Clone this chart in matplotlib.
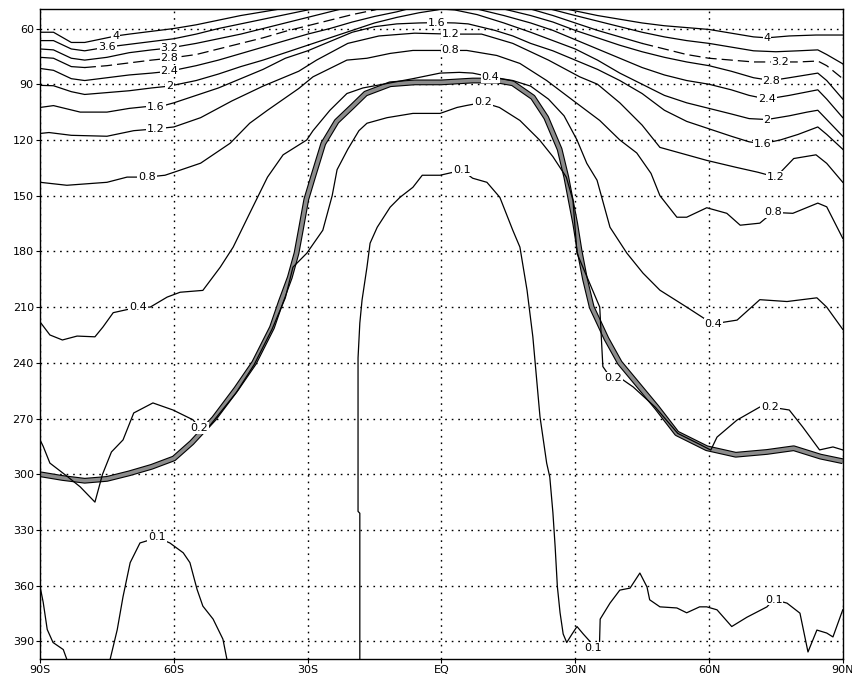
import matplotlib.pyplot as plt

# axes ticks
lat_ticks = [-90, -60, -30, 0, 30, 60, 90]
lat_labels = ['90S', '60S', '30S', 'EQ', '30N', '60N', '90N']
lev_ticks = [60, 90, 120, 150, 180, 210, 240, 270, 300, 330, 360, 390]

# contour 4
c40_lat = [-90, -87, -83, -80, -76, -73, -70, -65, -60, -55, -50, -45, -40, -35, -33]
c40_p = [62, 62, 67.5, 67.5, 65.5, 64, 63, 61.5, 60, 58, 55.5, 53, 51, 49, 48]
c40r_lat = [25, 30, 35, 40, 45, 50, 55, 60, 65, 70, 73, 78, 84, 90]
c40r_p = [48, 50.5, 53, 55, 57, 58.5, 59.5, 60.5, 62.5, 64.5, 65, 64, 63.5, 63.5]

# contour 3.6
c36_lat = [-90, -87, -83, -80, -75, -70, -65, -60, -55, -50, -45, -40, -35, -30, -27]
c36_p = [66.5, 66.5, 71, 72, 70, 68.5, 67, 65.5, 63, 60, 57.5, 55, 52.5, 50, 48]
c36r_lat = [22, 26, 30, 35, 40, 45, 50, 55, 60, 65, 70, 75, 80, 84.4, 86.4, 90]
c36r_p = [48, 50.5, 53, 56, 59, 62, 64.5, 66.5, 68, 70, 72, 72.5, 72, 71.5, 74, 79]

# contour 3.2
c32_lat = [-90, -87, -83, -80, -75, -70, -65, -61, -55, -50, -45, -40, -35, -30, -25, -20]
c32_p = [71, 71.5, 76, 77, 75.5, 73, 71.5, 70.5, 68, 65.5, 63, 60, 57, 54, 51, 48]
c32r_lat = [17, 20, 25, 30, 35, 40, 45]
c32r_p = [48, 49.5, 53, 57, 61, 64.5, 68]
c32e_lat = [45, 50, 55, 60, 65, 70, 76, 80, 84.4, 86.4, 90]
c32e_p = [68, 71, 74, 76, 77, 78, 78, 78, 77.5, 80, 87]

# contour 2.8
c28w_lat = [-90, -87, -83, -80]
c28w_p = [75.5, 76, 80.5, 81]
c28_lat = [-80, -75, -70, -65, -61, -55, -50, -45, -40, -35, -30, -25, -20, -15, -12]
c28_p = [81, 80, 78.5, 77, 76, 74, 71, 68, 65, 61.5, 58.5, 55.5, 52.5, 50, 48]
c28r_lat = [11, 14, 20, 25, 30, 35, 40, 45, 50, 55, 60, 65, 70, 74, 78, 84.4, 86.4, 90]
c28r_p = [48, 49.5, 53, 56.5, 61, 65, 69, 72.5, 75.5, 78, 80, 83, 86.5, 88, 86.5, 84, 88, 98]

# contour 2.4
c24_lat = [-90, -87, -83, -80, -75, -70, -65, -61, -55, -50, -45, -40, -35, -30, -25, -20, -15, -10, -6]
c24_p = [81.5, 82.5, 87, 88, 86.5, 85, 84, 83, 80, 77, 73.5, 70, 66.5, 63, 60, 56.5, 53.5, 51, 48.5]
c24r_lat = [5, 8, 14, 20, 25, 30, 35, 40, 45, 50, 55, 60, 65, 69, 73, 78, 84.4, 86.4, 90]
c24r_p = [48, 49.5, 53, 57, 61, 66, 71, 76, 81, 85, 88, 90, 93, 96, 98, 96, 93, 98, 108]

# contour 2
c20_lat = [-90, -87, -83, -80, -75, -70, -65, -61, -55, -50, -45, -40, -35, -30, -25, -20, -15,
           -10, -5, -1, 0, 3, 8, 14, 20, 25, 30, 35, 40, 45, 50, 55, 60, 65, 69, 73, 78, 82,
           84.4, 86.4, 90]
c20_p = [90.6, 90.8, 94, 95.5, 94.5, 93.5, 92, 91, 88, 84.5, 80.5, 77, 73, 69, 65, 61, 57,
         54, 51.5, 50, 49.5, 50, 52.5, 57, 62, 66.5, 71, 77, 84, 90, 96, 100, 103, 106, 108.5,
         109, 107, 105, 104, 109, 118]

# contour 1.6
c16_lat = [-90, -87, -81, -75, -70, -66, -63, -60, -55, -50, -45, -40, -35, -30, -25, -20, -15,
           -10, -5, -1, 3, 6, 12, 16, 20, 25, 30, 35, 40, 45, 50, 55, 60, 65, 69, 72, 76, 80,
           84.4, 86.4, 90]
c16_p = [102.5, 101.5, 105, 105, 103, 102, 102, 100, 96, 92, 87, 82, 76, 72, 67, 62, 59,
         57.5, 57, 56.8, 57, 57.5, 61, 64, 68, 72, 77, 82, 88, 95, 104, 110, 114, 118, 121,
         122, 120, 117, 113, 117, 125]

# contour 1.2
c12_lat = [-90, -88, -83, -75, -69, -64, -60, -54, -47, -40, -32, -28, -21, -14, -6, 2, 9, 16,
           24, 31, 35, 40, 45, 49, 53.5, 59.5, 66, 71, 75, 79, 84, 86.4, 90]
c12_p = [116.5, 116, 117.5, 118, 115, 114, 113, 108, 99, 91, 83, 77, 68, 64, 62.5, 63, 63, 68,
         77, 86, 90, 100, 112, 124, 127, 131, 134.7, 137.4, 140, 130, 128, 132.6, 142.8]

# contour 0.8
c08_lat = [-90, -84, -75, -70.5, -66, -62, -60, -54, -47.4, -43, -39, -32, -28.8, -21.2, -16.7,
           -11.5, -6.4, 2, 5.7, 12.4, 17.6, 23.6, 29.5, 35.5, 40, 43.8, 47, 49, 52.8, 55, 59.5,
           64, 67, 71.4, 74.3, 78.8, 84.4, 86.4, 90]
c08_p = [142.8, 144.4, 142.8, 140, 140, 139, 137.4, 132.5, 121.8, 111, 104, 92.3, 86, 77, 76,
         73.4, 71.8, 71.8, 71.8, 74.5, 78.8, 88, 98.7, 109.5, 120, 127, 138, 150, 161.6, 161.6,
         156.5, 159.5, 165.9, 164.8, 159, 159.5, 154, 156, 173]

# contour 0.4
c04_lat = [-90, -87.8, -85, -81.7, -77.7, -75.9, -73.6, -68, -65.3, -61.5, -58.6, -53.5, -49.6,
           -46.7, -43, -39, -35.5, -30.2, -28.8, -25, -21.2, -17.6, -12, -6.4, -0.3, 4, 7, 11,
           16, 20, 24, 27.5, 30.4, 32.6, 34.9, 37.8, 41.6, 45.2, 49, 55, 59.5, 61, 66.3, 71.4,
           77.5, 84.2, 86.4, 90]
c04_p = [218, 225, 227.7, 225.6, 226, 220.7, 213, 210, 210, 204.6, 202, 201, 188.5, 177.7,
         159.5, 140, 128, 120, 115, 104, 95, 92, 89.5, 87, 84, 83.6, 84, 86, 88, 91, 98, 107,
         120, 132.6, 141.7, 167, 181, 191.7, 200.9, 210, 217, 219, 217, 206, 207, 205, 210, 222]

# contour 0.2
c02_lat = [-90, -89.3, -87.8, -84, -81, -77.7, -76, -74, -71.4, -69, -64.7, -60.2, -55.7, -54.3,
           -52, -46, -42, -38, -35, -33.3, -30.2, -26.6, -24.5, -23.4, -21, -18.5, -16.7,
           -12.2, -6.4, -0.3, 3.5, 5.7, 9.3, 13, 17.6, 22, 25, 28, 29.5, 30.4, 35.5, 36.2,
           37.8, 40, 43, 48, 53, 58, 60.4, 61.8, 66.3, 71.4, 73.7, 78, 81, 84.8, 87.8, 90]
c02_p = [281.5, 285, 294, 301, 306.8, 315, 300, 288, 281.5, 267, 261.6, 265.4, 270.7, 275,
         274, 256, 241, 222, 205, 188.5, 181, 168.6, 150, 136, 125, 115, 111, 108, 105.7,
         105.7, 102.5, 101.4, 99.8, 102.5, 109.5, 120, 129, 140, 152.5, 181, 210, 242, 247.6,
         248, 253, 264, 278, 284, 287, 280, 270.8, 263.8, 263.8, 265.4, 274.5, 286.9, 285.3,
         286.9]

# contour 0.1, central dome
c01_lat = [-18.3, -18.3, -18.7, -18.7, -18.7, -18.3, -17.8, -16.7, -16, -14.4, -11.5, -9.3,
           -6.4, -4.3, -0.3, 4.6, 7, 10.2, 13.1, 16, 17.6, 19.2, 20.5, 22.1, 23.6, 24.3, 25,
           25.5, 26, 26.6, 27.3, 28.1, 29.3, 30.4, 31.8, 33.3, 34, 35, 35.4, 35.6, 37.8, 40,
           42.3, 44.5, 46.1, 46.7, 49, 52.8, 55, 57.9, 59.5, 61.8, 65.1, 68.5, 73, 74.5, 77.5,
           80.4, 82.2, 84.2, 86.4, 87.8, 90]
c01_p = [400, 321, 320, 286.9, 237.4, 218.6, 206.2, 188.5, 175.6, 167, 156.2, 150.9, 145.5,
         139, 139, 136.3, 140.6, 142.8, 150.9, 168.6, 177.7, 200.9, 226, 269, 294, 301.5,
         320.7, 339, 360.5, 374.5, 386, 390.6, 386, 382, 386, 390, 393, 396, 395.5, 378,
         369.4, 362.4, 361.3, 353.2, 360.7, 367.6, 371.4, 372, 374.6, 371.4, 371.4, 373, 382,
         377, 371.4, 367.5, 369.4, 374.8, 395.7, 383.9, 385.5, 387.6, 373]

# contour 0.1, left edge
c01w_lat = [-90, -90, -89.3, -88.4, -87.1, -84.8, -84, -83.7]
c01w_p = [352, 360.5, 369, 383.6, 390.6, 394.4, 399.7, 400]

# contour 0.1, southern bump
c01s_lat = [-74.6, -74.3, -72.7, -71.4, -69.8, -67.6, -65.3, -63.8, -60.9, -57.9, -56.4, -54.8,
            -53.5, -51.2, -49, -48.1, -48]
c01s_p = [400, 399.7, 383.7, 365.9, 347.6, 337, 335.3, 334, 337, 342.3, 347.6, 362, 371, 378,
          388.8, 399.7, 400]

# thick band
trop_lat = [-90, -85, -80, -75, -70, -65, -60, -56, -51, -46, -42, -38, -36, -34, -32.5, -31.5,
            -30.3, -28.8, -26.5, -23.5, -20, -17, -11.5, -6, 0, 7, 12.5, 16, 20.5, 23.5, 26.5,
            28, 28.8, 30, 31, 32.2, 33.7, 37, 40, 44.5, 48.3, 52.8, 59.5, 66, 73, 79, 85, 90]
trop_p = [300, 302, 303.5, 302.5, 299.5, 296, 291.5, 283, 270, 254, 240, 221, 207, 194, 181,
          168, 152, 140, 122, 110, 102, 95, 90, 89, 89, 88, 88, 89.5, 97, 108, 125, 140, 150,
          165, 180, 195, 210, 227, 240, 253, 264, 278, 286, 289.5, 288, 286, 290.5, 293]

# inline labels
lbl_text = ['4', '3.6', '3.2', '2.8', '2.4', '2', '1.6', '1.2', '0.8', '0.4', '0.2', '0.1',
            '1.6', '1.2', '0.8', '0.4', '0.2', '0.1',
            '4', '3.2', '2.8', '2.4', '2', '1.6', '1.2', '0.8', '0.4', '0.2', '0.2', '0.1', '0.1']
lbl_lat = [-73, -75, -61, -61, -61, -61, -64, -64, -66, -68, -54.3, -63.8,
           -1, 2, 2, 11, 9.3, 4.6,
           73, 76, 74, 73, 73, 72, 75, 74.3, 61, 38.5, 73.7, 74.5, 34]
lbl_p = [64, 70, 70.5, 76, 83, 91, 102, 114, 140, 210, 275, 334,
         56.8, 63, 71.8, 86, 99.8, 136.3,
         65, 78, 88, 98, 109, 122, 140, 159, 219, 248, 263.8, 367.5, 393.5]

fig = plt.figure(figsize=(8.53, 6.84), dpi=100)
ax = fig.add_axes([0.047, 0.0365, 0.941, 0.9503])

# band drawn under the thin lines
ax.plot(trop_lat, trop_p, color='black', lw=4.2, solid_capstyle='butt', zorder=2)
ax.plot(trop_lat, trop_p, color='#8c8c8c', lw=2.6, solid_capstyle='butt', zorder=2.1)

solid = '-'
broken = (0, (9, 4))
lines = [
    (c40_lat, c40_p, solid), (c40r_lat, c40r_p, solid),
    (c36_lat, c36_p, solid), (c36r_lat, c36r_p, solid),
    (c32_lat, c32_p, solid), (c32r_lat, c32r_p, solid), (c32e_lat, c32e_p, broken),
    (c28w_lat, c28w_p, solid), (c28_lat, c28_p, broken), (c28r_lat, c28r_p, solid),
    (c24_lat, c24_p, solid), (c24r_lat, c24r_p, solid),
    (c20_lat, c20_p, solid), (c16_lat, c16_p, solid), (c12_lat, c12_p, solid),
    (c08_lat, c08_p, solid), (c04_lat, c04_p, solid), (c02_lat, c02_p, solid),
    (c01_lat, c01_p, solid), (c01w_lat, c01w_p, solid), (c01s_lat, c01s_p, solid),
]
for xs, ys, ls in lines:
    ax.plot(xs, ys, color='black', lw=0.9, linestyle=ls, zorder=3)

for t, x, y in zip(lbl_text, lbl_lat, lbl_p):
    ax.text(x, y, t, ha='center', va='center', fontsize=8, zorder=4,
            bbox=dict(boxstyle='square,pad=0.08', fc='white', ec='none'))

ax.set_xlim(-90, 90)
ax.set_ylim(399.5, 49.5)
ax.set_xticks(lat_ticks)
ax.set_xticklabels(lat_labels)
ax.set_yticks(lev_ticks)
ax.tick_params(direction='out', length=3, width=0.8, labelsize=8, pad=1.5)
ax.grid(True, color='black', linestyle=(0, (1.2, 3.5)), linewidth=1.0)
for s in ax.spines.values():
    s.set_linewidth(1.0)

fig.savefig('out.png', dpi=100)
